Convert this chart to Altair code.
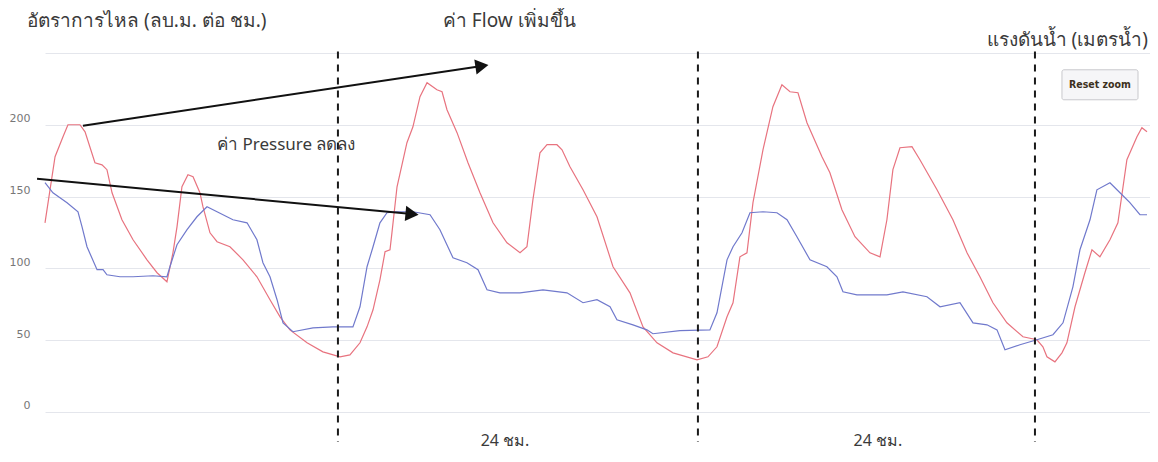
import altair as alt
import pandas as pd

# ---------------- data ----------------
flow_hours = [
    0.0, 0.67, 1.2, 1.53, 2.33, 2.67, 3.33, 3.8, 4.13, 4.47,
    5.13, 5.87, 6.8, 7.47, 8.13, 8.53, 8.8, 9.13, 9.53, 9.87,
    10.33, 10.53, 11.0, 11.47, 12.33, 13.2, 14.13, 15.0, 15.67, 16.33,
    17.47, 18.53, 19.67, 20.33, 21.0, 21.47, 21.87, 22.33, 22.67, 23.0,
    23.13, 23.47, 24.13, 24.53, 25.0, 25.47, 26.13, 26.47, 26.8, 27.47,
    28.2, 29.0, 29.87, 30.8, 31.67, 32.13, 32.53, 33.0, 33.47, 34.13,
    34.47, 35.0, 35.87, 36.8, 37.87, 39.0, 39.87, 40.8, 41.87, 43.47,
    44.2, 44.8, 45.47, 45.87, 46.33, 46.8, 47.2, 47.87, 48.53, 49.13,
    49.67, 50.2, 50.8, 51.8, 52.33, 53.13, 54.0, 55.0, 55.67, 56.13,
    56.53, 57.0, 57.8, 58.33, 59.47, 60.53, 61.47, 62.33, 63.2, 64.13,
    65.2, 66.13, 66.53, 66.8, 67.33, 67.8, 68.13, 68.67, 69.33, 69.8,
    70.33, 71.0, 71.53, 72.13, 72.8, 73.13, 73.47,
]
flow_values = [
    131.7, 177.7, 191.7, 200, 200, 195.1, 173.5, 172.1, 168.7, 152.6,
    133.8, 119.9, 105.9, 96.9, 90.6, 110.8, 128.9, 156.8, 165.2, 163.8,
    152.6, 142.9, 124.7, 118.5, 115, 105.9, 94.1, 78.1, 66.2, 57.1,
    48.1, 41.8, 38.3, 39.7, 48.1, 59.2, 71.1, 92, 111.5, 112.9,
    124.7, 156.8, 187.5, 198.6, 219.6, 229.3, 224.4, 223, 210.5, 194.5,
    173.5, 152.6, 131.7, 117.8, 110.8, 115, 147.8, 180.5, 186.1, 186.1,
    182.6, 170.8, 154.7, 135.9, 101.1, 82.9, 59.2, 48.1, 41.1, 36.2,
    38.3, 45.3, 66.2, 76, 108, 110.8, 145.7, 182.6, 212.6, 227.9,
    223, 222.3, 201.4, 177.7, 166.6, 140.8, 122, 110.8, 108, 133.8,
    168.7, 184, 184.7, 175.6, 154.7, 133.8, 110.8, 94.1, 76, 62,
    52.3, 50.2, 45.3, 38.3, 34.8, 41.1, 48.1, 73.2, 96.9, 112.9,
    108, 119.9, 131.7, 175.6, 191.7, 197.9, 195.1,
]
pressure_hours = [
    0.0, 0.53, 1.47, 2.2, 2.47, 2.8, 3.47, 3.87, 4.13, 5.0,
    5.87, 7.2, 8.13, 8.33, 8.8, 9.47, 10.13, 10.8, 11.47, 12.53,
    13.47, 14.13, 14.53, 15.0, 15.47, 15.87, 16.53, 17.87, 19.2, 20.53,
    21.0, 21.47, 21.87, 22.33, 22.8, 23.47, 24.53, 25.67, 26.33, 27.2,
    28.13, 28.87, 29.47, 30.33, 31.67, 33.2, 34.8, 35.87, 36.8, 37.67,
    38.13, 39.2, 40.13, 40.53, 42.33, 44.33, 44.8, 45.47, 45.87, 46.47,
    47.0, 47.87, 48.8, 49.47, 50.13, 51.0, 52.13, 52.8, 53.2, 54.13,
    56.13, 57.2, 58.8, 59.67, 61.0, 61.87, 62.8, 63.47, 64.0, 65.0,
    66.13, 67.2, 67.87, 68.53, 69.0, 69.67, 70.13, 71.0, 71.67, 72.33,
    73.0, 73.47,
]
pressure_values = [
    159.6, 152.6, 145.7, 139.4, 128.9, 115, 99, 99, 95.5, 94.1,
    94.1, 94.8, 94.1, 101.1, 116.4, 126.9, 135.9, 142.9, 139.4, 133.8,
    131.7, 119.9, 103.9, 94.1, 78.1, 62, 55.8, 58.5, 59.2, 59.2,
    73.2, 101.1, 115, 131.7, 138.7, 139.4, 139.4, 137.3, 126.9, 107.3,
    103.9, 99, 85, 82.9, 82.9, 85, 82.9, 76, 78.1, 73.2,
    64.1, 60.6, 57.1, 54.4, 56.5, 57.1, 69, 105.9, 115, 124.7,
    138.7, 139.4, 138.7, 133.8, 122, 105.9, 101.1, 94.1, 83.6, 81.5,
    81.5, 83.6, 80.2, 73.2, 76, 62, 60.6, 57.1, 43.2, 46.7,
    50.2, 53.7, 62, 87.1, 112.9, 133.8, 154.7, 159.6, 152.6, 145.7,
    137.3, 137.3,
]
y_ticks = [0, 50, 100, 150, 200, 250]
split_hours = [19.53, 43.53, 66.0]
period_text = ["24 ชม.", "24 ชม."]
period_hours = [30.67, 55.53]

left_title = "อัตราการไหล (ลบ.ม. ต่อ ชม.)"
right_title = "แรงดันน้ำ (เมตรน้ำ)"
flow_note = "ค่า Flow เพิ่มขึ้น"
pressure_note = "ค่า Pressure ลดลง"
button_text = "Reset zoom"

# ---------------- chart ----------------
FONT = "Noto Sans, DejaVu Sans, sans-serif"
X = alt.Scale(domain=[0, 73.67], nice=False, zero=False)
Y = alt.Scale(domain=[-28, 250], nice=False, zero=False)
TXT = "#3a3a3a"


def xq(field):
    return alt.X(field, type="quantitative", scale=X, axis=None)


def yq(field):
    return alt.Y(field, type="quantitative", scale=Y)


flow_df = pd.DataFrame({"h": flow_hours, "v": flow_values})
pres_df = pd.DataFrame({"h": pressure_hours, "v": pressure_values})

y_axis = alt.Axis(
    values=y_ticks,
    labelExpr="datum.value == 250 ? '' : datum.label",
    grid=True, gridColor="#e4e6ec", gridWidth=1,
    domain=False, ticks=False, labelPadding=15,
    labelColor="#777777", labelFontSize=11, labelFont="DejaVu Sans",
    labelOffset=-6, title=None,
)

flow = alt.Chart(flow_df).mark_line(color="#e8737f", strokeWidth=1.2).encode(
    x=xq("h"),
    y=alt.Y("v:Q", scale=Y, axis=y_axis),
)
pres = alt.Chart(pres_df).mark_line(color="#7079cc", strokeWidth=1.2).encode(
    x=xq("h"), y=yq("v"),
)

split_df = pd.DataFrame({"h": split_hours, "top": [251] * 3, "bot": [-21] * 3})
splits = alt.Chart(split_df).mark_rule(
    color="#1a1a1a", strokeWidth=2, strokeDash=[7, 6]
).encode(x=xq("h"), y=yq("top"), y2="bot:Q")

period_df = pd.DataFrame({"h": period_hours, "t": period_text, "y": [-20] * 2})
periods = alt.Chart(period_df).mark_text(
    font=FONT, fontSize=16, color=TXT, align="center", baseline="middle"
).encode(x=xq("h"), y=yq("y"), text="t:N")

arrow_df = pd.DataFrame({
    "x0": [2.53, -0.53], "y0": [199.3, 162.4],
    "x1": [29.13, 24.47], "y1": [241.0, 137.8],
    "ang": [351.5, 5.4],
})
arrow_lines = alt.Chart(arrow_df).mark_rule(color="#111111", strokeWidth=2).encode(
    x=xq("x0"), y=yq("y0"), x2="x1:Q", y2="y1:Q"
)
arrow_heads = alt.Chart(arrow_df).mark_point(
    shape="triangle-right", filled=True, color="#111111", size=230, opacity=1
).encode(x=xq("x1"), y=yq("y1"), angle=alt.Angle("ang:Q", scale=None))

texts_df = pd.DataFrame({
    "x": [-1.2, 26.53],
    "y": [272.0, 272.0],
    "t": [left_title, flow_note],
})
texts = alt.Chart(texts_df).mark_text(
    font=FONT, fontSize=19, color=TXT, align="left", baseline="middle"
).encode(x=xq("x"), y=yq("y"), text="t:N")

pn_df = pd.DataFrame({"x": [11.47], "y": [186.1], "t": [pressure_note]})
ptext = alt.Chart(pn_df).mark_text(
    font=FONT, fontSize=17, color=TXT, align="left", baseline="middle"
).encode(x=xq("x"), y=yq("y"), text="t:N")

rt_df = pd.DataFrame({"x": [73.53], "y": [259.2], "t": [right_title]})
rtext = alt.Chart(rt_df).mark_text(
    font=FONT, fontSize=19, color=TXT, align="right", baseline="middle"
).encode(x=xq("x"), y=yq("y"), text="t:N")

btn_df = pd.DataFrame({"x0": [67.8], "x1": [72.87], "y0": [238.3], "y1": [217.4],
                       "cx": [70.33], "cy": [227.9], "t": [button_text]})
btn = alt.Chart(btn_df).mark_rect(
    fill="#f6f6f8", stroke="#c8c8cc", strokeWidth=1, cornerRadius=2
).encode(x=xq("x0"), x2="x1:Q", y=yq("y0"), y2="y1:Q")
btn_text = alt.Chart(btn_df).mark_text(
    font="DejaVu Sans Condensed, DejaVu Sans", fontSize=10.5, fontWeight="bold",
    color="#3c3020", align="center", baseline="middle"
).encode(x=xq("cx"), y=yq("cy"), text="t:N")

chart = alt.layer(
    flow, pres, splits, periods, arrow_lines, arrow_heads, texts, ptext, rtext, btn, btn_text
).properties(
    width=1105, height=399,
    autosize=alt.AutoSizeParams(type="none"),
    padding={"left": 37, "top": 45, "right": 0, "bottom": 0},
).configure(background="white").configure_view(stroke=None)

chart.save("out.html", embed_options={"renderer": "svg", "actions": False})
